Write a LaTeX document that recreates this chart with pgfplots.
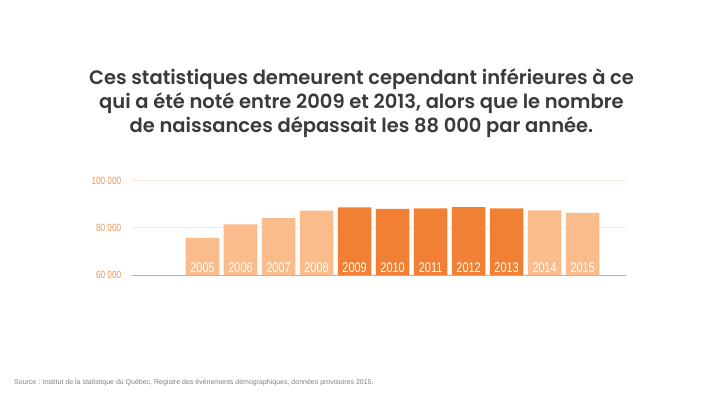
\documentclass[border=0pt]{standalone}
\usepackage{fontspec}
\usepackage{pgfplots}
\pgfplotsset{compat=1.18}
\setmainfont{Liberation Sans}
\newfontfamily\titlefont[UprightFont=* SemiBold]{Poppins}
\newfontfamily\condfont[FakeStretch=0.78]{Liberation Sans}
\definecolor{lightor}{HTML}{FBBC8C}
\definecolor{darkor}{HTML}{F28034}
\definecolor{gridc}{HTML}{FCE9DB}
\definecolor{basec}{HTML}{EFA36A}
\definecolor{labc}{HTML}{F2924A}
\definecolor{titc}{HTML}{3A3A3A}
\begin{document}
\begin{tikzpicture}
\path (0pt,0pt) rectangle (720pt,405pt);
\begin{scope}[every node/.style={font=\titlefont\fontsize{19.5}{24}\selectfont, text=titc, anchor=base, inner sep=0}]
\node at (361.5pt,320.7pt) {Ces statistiques demeurent cependant inférieures à ce};
\node at (361.5pt,296.7pt) {qui a été noté entre 2009 et 2013, alors que le nombre};
\node at (361.5pt,272.7pt) {de naissances dépassait les 88 000 par année.};
\end{scope}
\node[font=\fontsize{7}{8}\selectfont, text=titc!65, anchor=base west, inner sep=0] at (14pt,20.5pt) {Source : Institut de la statistique du Québec, Registre des événements démographiques, données provisoires 2015.};
\begin{axis}[
  at={(131.7pt,130pt)}, anchor=south west,
  scale only axis, width=494.3pt, height=94.3pt,
  xmin=2003.137, xmax=2016.14,
  ymin=60000, ymax=100000,
  ybar, bar width=33.6pt, bar shift=0pt,
  axis x line*=bottom, axis y line*=left,
  x axis line style={draw=basec, line width=1pt, -},
  y axis line style={draw=none, -},
  scaled y ticks=false,
  ytick={60000,80000,100000},
  yticklabels={60 000,80 000,100 000},
  ymajorgrids, major grid style={gridc, line width=0.8pt},
  major tick length=0pt,
  yticklabel style={font=\condfont\fontsize{10.5}{12}\selectfont, text=labc, xshift=-7pt},
  xtick=\empty,
]
\addplot[fill=lightor, draw=none] coordinates {(2005,75800) (2006,81500) (2007,84100) (2008,87300) (2014,87400) (2015,86400)};
\addplot[fill=darkor, draw=none] coordinates {(2009,88700) (2010,88100) (2011,88260) (2012,88750) (2013,88260)};
\addplot[draw=none, fill=none, point meta=explicit symbolic,
  nodes near coords,
  every node near coord/.style={font=\condfont\fontsize{14}{16}\selectfont, text=white, anchor=base, inner sep=0, yshift=3pt}]
  coordinates {(2005,60000)[2005] (2006,60000)[2006] (2007,60000)[2007] (2008,60000)[2008] (2009,60000)[2009] (2010,60000)[2010] (2011,60000)[2011] (2012,60000)[2012] (2013,60000)[2013] (2014,60000)[2014] (2015,60000)[2015]};
\end{axis}
\end{tikzpicture}
\end{document}
